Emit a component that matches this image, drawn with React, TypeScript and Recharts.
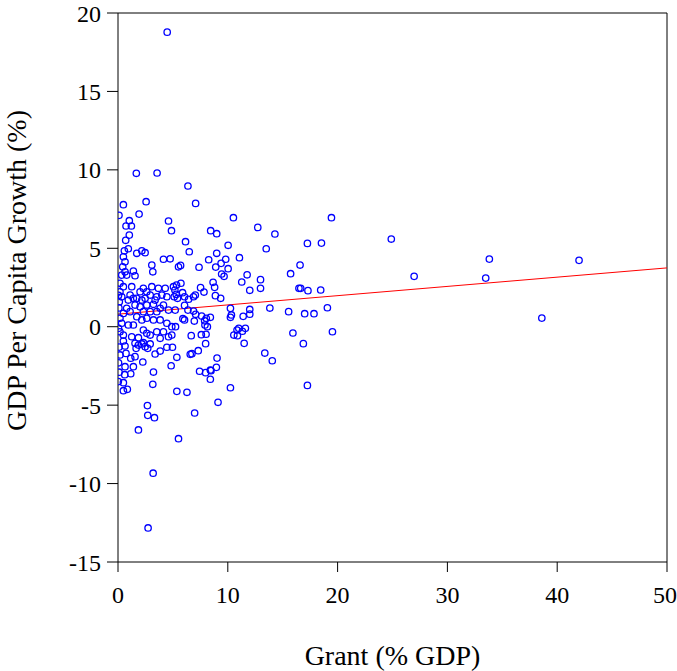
import React from 'react'
import {
  ScatterChart,
  Scatter,
  XAxis,
  YAxis,
  ReferenceLine,
  Label,
} from 'recharts'

// Grant (% GDP) per country-year
const grant = [
  4.48, 2.74, 3.2, 5.51, 1.86, 2.71, 3.32, 2.68, 6.98, 9.11,
  1.67, 3.56, 6.37, 0.49, 2.56, 7.07, 0.09, 1.92, 4.6, 10.51,
  1.03, 0.73, 1.22, 4.87, 8.44, 8.99, 12.73, 14.29, 19.44, 1.03,
  0.7, 6.15, 10.03, 13.5, 17.25, 18.53, 24.89, 0.94, 0.58, 1.71,
  2.17, 2.47, 6.49, 8.99, 0.49, 4.14, 4.75, 8.26, 9.81, 11.06,
  33.82, 41.99, 0.64, 9.39, 16.58, 3.08, 5.7, 0.43, 5.51, 7.38,
  8.9, 10.03, 0.64, 1.4, 3.17, 15.72, 9.44, 11.76, 0.34, 0.79,
  1.55, 9.66, 26.97, 33.49, 12.98, 11.27, 8.66, 0.18, 5.73, 5.33,
  0.49, 1.25, 3.08, 5.05, 8.8, 7.52, 2.31, 3.68, 4.3, 12.98,
  16.48, 16.64, 5.18, 12.0, 17.3, 18.46, 2.62, 2.01, 0.18, 7.83,
  5.88, 5.3, 2.93, 3.99, 1.1, 7.04, 8.87, 5.12, 6.06, 6.88,
  4.45, 3.53, 0.34, 5.42, 9.35, 2.47, 1.71, 1.4, 6.43, 3.38,
  2.17, 0.94, 0.12, 3.23, 1.55, 2.62, 4.14, 6.06, 2.01, 13.83,
  19.07, 3.84, 0.79, 10.24, 12.0, 4.6, 5.21, 6.37, 6.88, 1.1,
  2.31, 2.93, 3.53, 15.54, 0.49, 17.0, 17.85, 12.0, 7.07, 10.33,
  7.62, 11.4, 1.71, 10.24, 8.41, 38.6, 8.04, 0.18, 2.62, 5.91,
  2.17, 3.23, 3.84, 6.06, 7.89, 6.95, 0.34, 4.45, 0.94, 1.4,
  7.92, 4.9, 8.14, 5.24, 11.0, 11.6, 10.84, 2.31, 11.33, 0.18,
  3.53, 4.14, 19.53, 15.93, 2.62, 8.02, 7.59, 0.49, 2.93, 4.9,
  10.55, 6.67, 10.88, 1.25, 4.6, 1.86, 3.84, 0.49, 2.31, 1.55,
  11.49, 7.98, 16.88, 2.17, 2.93, 1.86, 0.64, 2.47, 4.45, 4.96,
  1.65, 2.71, 7.31, 3.84, 13.37, 0.73, 3.38, 6.58, 6.73, 0.18,
  1.55, 5.36, 9.02, 1.16, 14.05, 2.26, 4.84, 0.64, 1.4, 8.96,
  8.41, 8.47, 7.43, 3.23, 7.98, 1.16, 0.61, 8.41, 0.03, 0.49,
  3.17, 17.25, 10.24, 0.85, 0.49, 5.36, 6.28, 0.05, 0.08, 0.05,
  0.1, 0.05, 0.1,
]

// GDP per capita growth (%) for the same observations
const growth = [
  18.78, -12.83, -9.34, -7.14, -6.58, -5.65, -5.8, -5.03, -5.5, -4.82,
  9.78, 9.8, 8.97, 7.78, 7.97, 7.86, 7.1, 7.18, 6.74, 6.95,
  6.76, 6.42, 6.42, 6.12, 6.12, 5.93, 6.33, 5.91, 6.95, 5.84,
  5.51, 5.42, 5.19, 4.97, 5.31, 5.33, 5.59, 4.97, 4.84, 4.68,
  4.84, 4.72, 4.78, 4.68, 4.46, 4.3, 4.33, 4.27, 4.3, 4.4,
  4.31, 4.23, 4.14, 4.04, 3.93, 3.93, 3.91, 3.82, 3.82, 3.79,
  3.8, 3.7, 3.5, 3.55, 3.5, 3.38, 3.36, 3.31, 3.29, 3.29,
  3.25, 3.21, 3.21, 3.1, 3.0, 2.85, 2.83, 2.77, 2.77, 2.66,
  2.55, 2.55, 2.55, 2.55, 2.51, 2.49, 2.45, 2.45, 2.45, 2.45,
  2.45, 2.45, 2.34, 2.32, 2.3, 2.34, 2.23, 2.23, 2.23, 2.21,
  2.17, 2.06, 2.02, 2.02, 2.02, 2.02, 1.98, 1.91, 1.91, 1.91,
  1.91, 1.91, 1.91, 1.81, 1.81, 1.81, 1.81, 1.81, 1.75, 1.7,
  1.7, 1.7, 1.59, 1.43, 1.38, 1.38, 1.38, 1.36, 1.27, 1.19,
  1.21, 1.17, 1.17, 1.17, 1.1, 1.06, 1.06, 1.06, 1.0, 0.96,
  0.96, 0.96, 0.96, 0.96, 0.85, 0.83, 0.83, 0.8, 0.79, 0.75,
  0.68, 0.66, 0.64, 0.6, 0.6, 0.55, 0.54, 0.54, 0.54, 0.51,
  0.43, 0.43, 0.43, 0.43, 0.38, 0.36, 0.22, 0.22, 0.11, 0.11,
  0.11, 0.0, 0.0, 0.0, -0.1, -0.1, -0.21, -0.21, -0.29, -0.32,
  -0.32, -0.32, -0.32, -0.4, -0.42, -0.48, -0.51, -0.53, -0.53, -0.53,
  -0.53, -0.57, -0.57, -0.64, -0.64, -0.7, -0.74, -0.91, -1.02, -1.06,
  -1.06, -1.08, -1.08, -1.1, -1.1, -1.17, -1.23, -1.27, -1.31, -1.31,
  -1.38, -1.38, -1.53, -1.55, -1.68, -1.7, -1.74, -1.76, -1.72, -1.8,
  -1.91, -1.95, -2.0, -2.01, -2.17, -2.25, -2.49, -2.55, -2.55, -2.59,
  -2.76, -2.8, -2.84, -2.89, -2.93, -3.0, -3.06, -3.35, -3.5, -3.57,
  -3.67, -3.74, -3.89, -3.99, -4.08, -4.12, -4.18, 2.0, 1.2, -0.1,
  -1.3, -2.3, -2.9,
]

const xTicks = [0, 10, 20, 30, 40, 50]
const yTicks = [-15, -10, -5, 0, 5, 10, 15, 20]

// fitted line end points
const trendX = [0, 50]
const trendY = [0.8, 3.75]

const points = grant.map((g, i) => ({ x: g, y: growth[i] }))
const trend = trendX.map((x, i) => ({ x, y: trendY[i] }))

const FONT = '"Liberation Serif", "Times New Roman", serif'

const OpenCircle = (props: any) => {
  const { cx, cy } = props
  if (cx == null || cy == null) return null
  return (
    <circle cx={cx} cy={cy} r={3.2} fill="none" stroke="#0000ff" strokeWidth={1.3} />
  )
}

export default function App() {
  return (
    <div style={{ position: 'absolute', left: 0, top: 0, background: '#fff' }}>
      <ScatterChart
        width={677}
        height={671}
        margin={{ top: 13, right: 10, bottom: 0, left: 0 }}
      >
        <XAxis
          type="number"
          dataKey="x"
          domain={[0, 50]}
          ticks={xTicks}
          allowDataOverflow
          height={109}
          stroke="#000"
          tickSize={10}
          tickMargin={14}
          tick={{ fill: '#000', fontSize: 24, fontFamily: FONT }}
        >
          <Label
            content={({ viewBox }: any) => (
              <text
                x={viewBox.x + viewBox.width / 2}
                y={viewBox.y + viewBox.height - 6}
                textAnchor="middle"
                fill="#000"
                fontSize={28}
                fontFamily={FONT}
              >
                Grant (% GDP)
              </text>
            )}
          />
        </XAxis>
        <YAxis
          type="number"
          dataKey="y"
          domain={[-15, 20]}
          ticks={yTicks}
          allowDataOverflow
          width={118}
          stroke="#000"
          tickSize={11}
          tickMargin={6}
          tick={{ fill: '#000', fontSize: 24, fontFamily: FONT }}
        >
          <Label
            content={({ viewBox }: any) => {
              const lx = viewBox.x + 26
              const ly = viewBox.y + viewBox.height / 2 - 17
              return (
                <text
                  x={lx}
                  y={ly}
                  transform={`rotate(-90, ${lx}, ${ly})`}
                  textAnchor="middle"
                  fill="#000"
                  fontSize={28}
                  fontFamily={FONT}
                >
                  GDP Per Capita Growth (%)
                </text>
              )
            }}
          />
        </YAxis>
        <ReferenceLine y={20} stroke="#000" />
        <ReferenceLine x={50} stroke="#000" />
        <Scatter
          data={points}
          shape={OpenCircle}
          isAnimationActive={false}
        />
        <ReferenceLine
          segment={[trend[0], trend[1]]}
          stroke="#ff0000"
          strokeWidth={1}
        />
      </ScatterChart>
    </div>
  )
}
